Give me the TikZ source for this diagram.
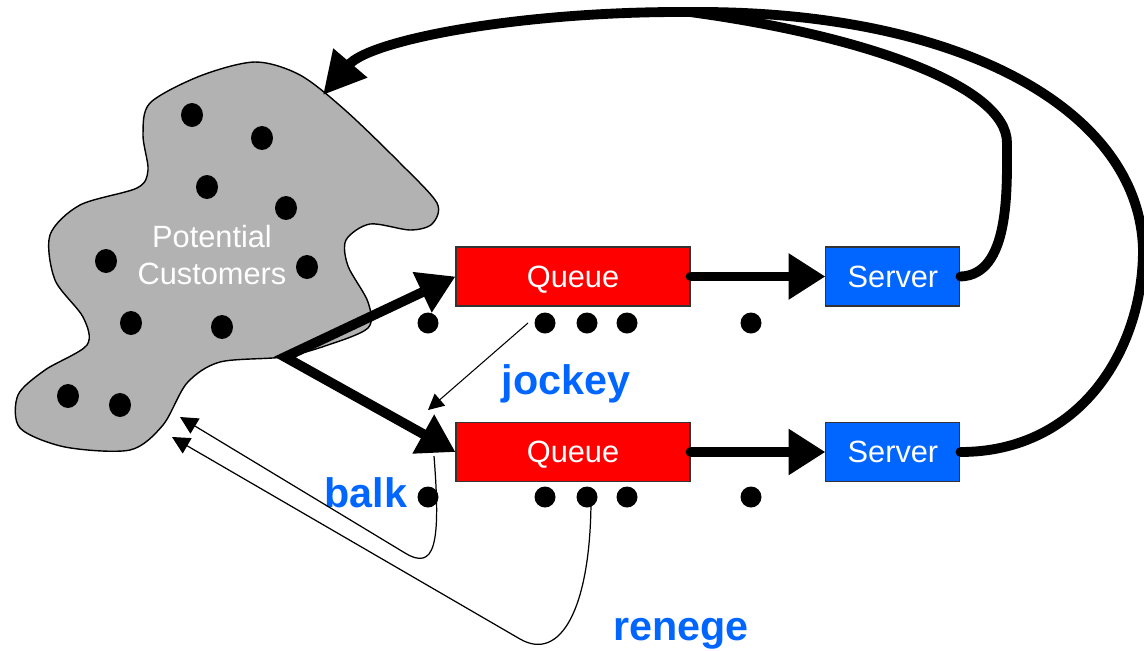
\documentclass[tikz,border=0pt]{standalone}
\usepackage{fontspec}
\setmainfont{Liberation Sans}
\usetikzlibrary{arrows.meta,positioning}

\definecolor{srvblue}{RGB}{0,102,255}
\definecolor{qred}{RGB}{255,0,0}
\definecolor{crowdgray}{RGB}{178,178,178}

\begin{document}
\begin{tikzpicture}[
    x=0.02cm, y=-0.02cm,
    base/.style = {rectangle, draw=black!80, line width=0.6pt,
minimum height=1.18cm, inner sep=0pt, text=white, text depth=0pt,
font=\fontsize{17.5}{21}\selectfont},
    queue/.style = {base, fill=qred, minimum width=4.68cm},
    server/.style = {base, fill=srvblue, minimum width=2.68cm},
    tag/.style = {inner sep=0pt, text=srvblue,
font=\fontsize{23.5}{28}\selectfont\bfseries},
    fat/.style = {line width=5.6pt, line cap=round},
    flow/.style = {fat, -{Triangle[length=21pt, width=25pt]}},
    leave/.style = {line width=0.7pt, -{Triangle[length=10pt, width=10pt]}},
    node distance=6.4cm
]

  \useasboundingbox (0,0) rectangle (1144,650);

  \draw[fill=crowdgray, line width=0.8pt] plot[smooth cycle, tension=0.5] coordinates {
    (150,103) (200,76) (255,62) (300,75) (345,110) (400,163) (437,203)
    (432,224) (410,230) (370,224) (346,240) (348,266) (368,302) (368,328)
    (325,346) (283,357) (220,362) (187,383) (163,425) (130,450) (65,447)
    (20,428) (18,395) (45,370) (87,345) (83,317) (55,280) (50,235)
    (80,205) (137,188) (148,170) (143,135)};
  \node (crowd) [text=white, align=center, inner sep=0pt,
    font=\fontsize{17.5}{21.5}\selectfont] at (212,255) {Potential\\Customers};
  \foreach \px/\py in {192/115, 262/138, 207/187, 286/208, 106/261,
                       307/267, 131/323, 222/327, 68/396, 120/405}
    \fill (\px,\py) ellipse [x radius=0.22cm, y radius=0.24cm];

  \node (queueA)  [queue] at (573,276.5) {Queue};
  \node (serverA) [server, right of=queueA] {Server};
  \node (queueB)  [queue] at (573,452) {Queue};
  \node (serverB) [server, right of=queueB] {Server};

  \foreach \px in {428,545,587,627,751} {
    \fill (\px,323) circle [radius=0.21cm];
    \fill (\px,497) circle [radius=0.21cm];
  }

  \coordinate (crowdexit)  at (285,357);
  \coordinate (crowdentry) at (323,95);
  \coordinate (merge)      at (690,12);
  \coordinate (jockeyfrom) at (528,323);
  \coordinate (jockeyto)   at (428,410);
  \coordinate (balkfrom)   at (434,456);
  \coordinate (balkto)     at (180,417);
  \coordinate (renegefrom) at (591,503);
  \coordinate (renegeto)   at (172,437);

  \node (jockey) [tag] at (566,384) {jockey};
  \node (balk)   [tag] at (366,493) {balk};
  \node (renege) [tag] at (681,634) {renege};

  \draw[flow] (queueA.east) -- (serverA.west);
  \draw[flow] (queueB.east) -- (serverB.west);
  \draw[flow, {Triangle[length=21pt, width=24pt]}-{Triangle[length=21pt, width=24pt]}]
    (queueA.west) -- (crowdexit) -- (queueB.west);

  \draw[fat] (serverA.east) .. controls (1010,275) and (1007,190) .. (1007,143)
    .. controls (1007,85) and (860,35) .. (merge);
  \draw[fat, -{Triangle[length=24pt, width=24pt]}] (serverB.east)
    .. controls (1080,452) and (1143,350) .. (1143,250)
    .. controls (1140,110) and (960,10) .. (merge)
    .. controls (520,11) and (370,40) .. (crowdentry);

  \draw[line width=0.6pt, -{Triangle[length=9pt, width=9pt]}] (jockeyfrom) -- (jockeyto);
  \draw[leave] (balkfrom) .. controls (441,545) and (435,571) .. (405,553) -- (balkto);
  \draw[leave] (renegefrom) .. controls (590,610) and (560,662) .. (520,639) -- (renegeto);

\end{tikzpicture}
\end{document}
